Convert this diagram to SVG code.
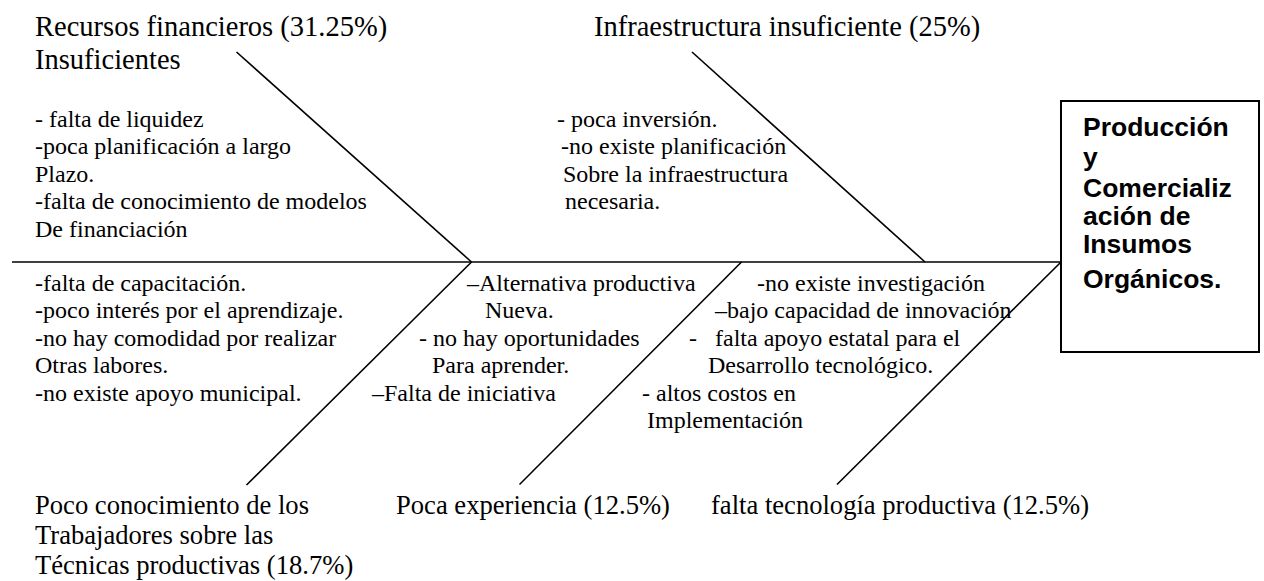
<svg xmlns="http://www.w3.org/2000/svg" width="1264" height="581" viewBox="0 0 1264 581">
<style>
.t{font-family:"Liberation Serif","Times New Roman",serif;fill:#000}
.h{font-size:28.5px}
.hb{font-size:26.6px}
.b{font-size:24px}
.box{font-family:"Liberation Sans",Arial,sans-serif;font-weight:bold;font-size:26.5px;fill:#000}
.ln{stroke:#000;stroke-width:1.6;fill:none}
</style>
<rect width="1264" height="581" fill="#fff"/>
<g id="connectors">
<line class="ln" x1="12" y1="262" x2="1061" y2="262" stroke-width="2.2"/>
<line class="ln" x1="236.5" y1="52" x2="471.5" y2="262"/>
<line class="ln" x1="692" y1="52" x2="925" y2="262"/>
<line class="ln" x1="471.5" y1="262" x2="246.5" y2="485"/>
<line class="ln" x1="741.5" y1="262" x2="519.5" y2="484.5"/>
<line class="ln" x1="1061" y1="262" x2="837" y2="484.5"/>
</g>
<g id="effect">
<rect x="1061" y="101" width="198" height="251" fill="#fff" stroke="#000" stroke-width="2"/>
<text class="box" x="1083"><tspan x="1083" y="136">Producción</tspan><tspan x="1083" y="165.5">y</tspan><tspan x="1083" y="197">Comercializ</tspan><tspan x="1083" y="225">ación de</tspan><tspan x="1083" y="253">Insumos</tspan><tspan x="1083" y="288">Orgánicos.</tspan></text>
</g>
<g id="cause-recursos">
<text class="t h"><tspan x="35" y="35.5">Recursos financieros (31.25%)</tspan><tspan x="35" y="68.5">Insuficientes</tspan></text>
<text class="t b"><tspan x="35" y="126.5">- falta de liquidez</tspan><tspan x="35" y="154">-poca planificación a largo</tspan><tspan x="35" y="181.5">Plazo.</tspan><tspan x="35" y="209">-falta de conocimiento de modelos</tspan><tspan x="35" y="236.5">De financiación</tspan></text>
</g>
<g id="cause-infraestructura">
<text class="t h" x="594" y="35.5">Infraestructura insuficiente (25%)</text>
<text class="t b"><tspan x="557" y="126.5">- poca inversión.</tspan><tspan x="561" y="154">-no existe planificación</tspan><tspan x="563" y="181.5">Sobre la infraestructura</tspan><tspan x="565" y="209">necesaria.</tspan></text>
</g>
<g id="cause-conocimiento">
<text class="t b"><tspan x="35" y="290.5">-falta de capacitación.</tspan><tspan x="35" y="318">-poco interés por el aprendizaje.</tspan><tspan x="35" y="345.5">-no hay comodidad por realizar</tspan><tspan x="35" y="373">Otras labores.</tspan><tspan x="35" y="400.5">-no existe apoyo municipal.</tspan></text>
<text class="t hb"><tspan x="35" y="514">Poco conocimiento de los</tspan><tspan x="35" y="544">Trabajadores sobre las</tspan><tspan x="35" y="574">Técnicas productivas (18.7%)</tspan></text>
</g>
<g id="cause-experiencia">
<text class="t b"><tspan x="467" y="290.5">–Alternativa productiva</tspan><tspan x="485" y="318">Nueva.</tspan><tspan x="419" y="345.5">- no hay oportunidades</tspan><tspan x="432" y="373">Para aprender.</tspan><tspan x="372" y="400.5">–Falta de iniciativa</tspan></text>
<text class="t hb" x="396" y="514">Poca experiencia (12.5%)</text>
</g>
<g id="cause-tecnologia">
<text class="t b"><tspan x="757" y="290.5">-no existe investigación</tspan><tspan x="715" y="318">–bajo capacidad de innovación</tspan><tspan x="689" y="345.5">-</tspan><tspan x="715" y="345.5">falta apoyo estatal para el</tspan><tspan x="708" y="373">Desarrollo tecnológico.</tspan><tspan x="642" y="400.5">- altos costos en</tspan><tspan x="647" y="428">Implementación</tspan></text>
<text class="t hb" x="711" y="514">falta tecnología productiva (12.5%)</text>
</g>
</svg>
